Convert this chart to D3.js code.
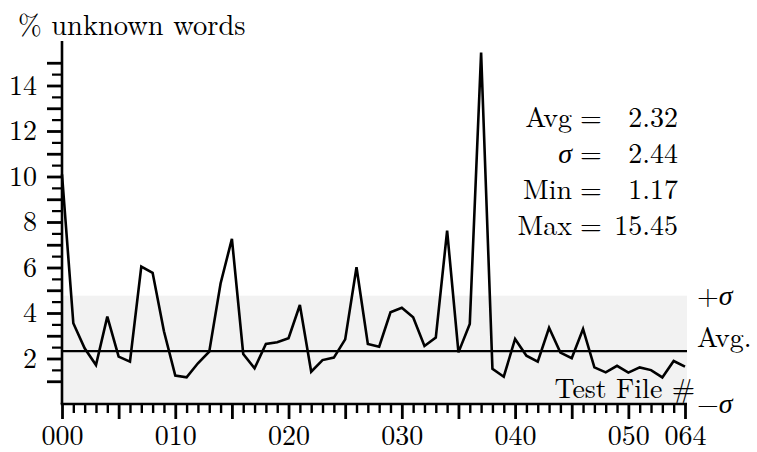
<!DOCTYPE html>
<html>
<head>
<meta charset="utf-8">
<script src="https://cdn.jsdelivr.net/npm/d3@7"></script>
<style>
  body { margin: 0; background: #fff; }
</style>
</head>
<body>
<script>
var width = 757;
var height = 452;
var font = "Latin Modern Roman";

// % unknown words per test file (index along the x axis)
var values = [10.1, 3.55, 2.45, 1.71, 3.84, 2.08, 1.86, 6.04, 5.77, 3.2,
  1.25, 1.17, 1.79, 2.30, 5.30, 7.26, 2.20, 1.57, 2.64, 2.71,
  2.89, 4.35, 1.42, 1.93, 2.04, 2.84, 6.01, 2.64, 2.52, 4.03,
  4.23, 3.81, 2.55, 2.92, 7.62, 2.27, 3.52, 15.45, 1.55, 1.20,
  2.86, 2.12, 1.86, 3.35, 2.26, 2.01, 3.30, 1.61, 1.39, 1.68,
  1.38, 1.61, 1.49, 1.17, 1.89, 1.64];

var xTickIdx = [0, 10, 20, 30, 40, 50, 55];
var xTickLabels = ["000", "010", "020", "030", "040", "050", "064"];
var yLabelTicks = [2, 4, 6, 8, 10, 12, 14];

var statNames = ["Avg", "\u03c3", "Min", "Max"];
var statValues = ["2.32", "2.44", "1.17", "15.45"];
var avg = 2.32, sd = 2.44;

var svg = d3.select("body").append("svg")
    .attr("width", width)
    .attr("height", height);

var x = d3.scaleLinear().domain([0, 55]).range([62, 685]);
var y = d3.scaleLinear().domain([0, 16]).range([404, 40]);

function label(px, py, size) {
  return svg.append("text")
      .attr("x", px).attr("y", py)
      .attr("font-family", font)
      .attr("font-size", size)
      .attr("fill", "#000");
}

// +/- sigma band, clipped at the x axis
svg.append("rect")
    .attr("x", x(0))
    .attr("y", y(avg + sd))
    .attr("width", 687 - x(0))
    .attr("height", y(Math.max(0, avg - sd)) - y(avg + sd))
    .attr("fill", "#f2f2f2");

// average line
svg.append("line")
    .attr("x1", x(0)).attr("x2", 687)
    .attr("y1", y(avg)).attr("y2", y(avg))
    .attr("stroke", "#000")
    .attr("stroke-width", 2.2);

// data line
var line = d3.line()
    .x(function(d, i) { return x(i); })
    .y(function(d) { return y(d); });

svg.append("path")
    .datum(values)
    .attr("d", line)
    .attr("fill", "none")
    .attr("stroke", "#000")
    .attr("stroke-width", 2.6)
    .attr("stroke-linejoin", "miter");

// y axis: half-unit minor ticks, integer major ticks, even labels
var yMinor = svg.append("g")
    .attr("transform", "translate(" + x(0) + ",0)")
    .call(d3.axisLeft(y).tickValues(d3.range(1.5, 15, 1)).tickSize(10).tickFormat(""));
yMinor.select(".domain").remove();
yMinor.selectAll("line").attr("stroke", "#000").attr("stroke-width", 2.2);

var yMajor = svg.append("g")
    .attr("transform", "translate(" + x(0) + ",0)")
    .call(d3.axisLeft(y).tickValues(d3.range(1, 16, 1)).tickSize(15).tickPadding(10)
      .tickFormat(function(d) { return yLabelTicks.indexOf(d) >= 0 ? d : ""; }));
yMajor.attr("font-family", font).attr("font-size", 28);
yMajor.select(".domain").remove();
yMajor.selectAll("line").attr("stroke", "#000").attr("stroke-width", 2.8);
yMajor.selectAll("text").attr("fill", "#000");

svg.append("line")
    .attr("x1", x(0)).attr("x2", x(0))
    .attr("y1", 41).attr("y2", y(0))
    .attr("stroke", "#000").attr("stroke-width", 2.6);

// x axis: minor ticks each file, longer every 5
var xMinor = svg.append("g")
    .attr("transform", "translate(0," + y(0) + ")")
    .call(d3.axisBottom(x).tickValues(d3.range(0, 56).filter(function(d) { return d % 5 != 0; }))
      .tickSize(9).tickFormat(""));
xMinor.select(".domain").remove();
xMinor.selectAll("line").attr("stroke", "#000").attr("stroke-width", 2.4);

var xMajor = svg.append("g")
    .attr("transform", "translate(0," + y(0) + ")")
    .call(d3.axisBottom(x).tickValues(d3.range(0, 56, 5)).tickSize(15).tickPadding(6)
      .tickFormat(function(d) {
        var k = xTickIdx.indexOf(d);
        return k >= 0 ? xTickLabels[k] : "";
      }));
xMajor.attr("font-family", font).attr("font-size", 28);
xMajor.select(".domain").remove();
xMajor.selectAll("line").attr("stroke", "#000").attr("stroke-width", 2.8);
xMajor.selectAll("text").attr("fill", "#000");

svg.append("line")
    .attr("x1", x(0) - 1.3).attr("x2", 687)
    .attr("y1", y(0)).attr("y2", y(0))
    .attr("stroke", "#000").attr("stroke-width", 2.6);

// titles
label(18, 35, 28.5).text("% unknown words");
label(695, 398, 28).attr("text-anchor", "end").text("Test File #");

// band labels
label(697, y(avg + sd) + 9, 28)
    .html("+<tspan font-style='italic'>\u03c3</tspan>");
label(697, 347, 28).text("Avg.");
label(697, y(0) + 9, 28)
    .html("\u2212<tspan font-style='italic'>\u03c3</tspan>");

// stats block: one text per row, columns aligned by tspans
statNames.forEach(function(name, i) {
  var row = label(572, 127 + i * 36, 28);
  row.append("tspan").attr("x", 572).attr("text-anchor", "end")
      .attr("font-style", i == 1 ? "italic" : "normal")
      .text(name);
  row.append("tspan").attr("x", 591).attr("text-anchor", "middle").text("=");
  row.append("tspan").attr("x", 678).attr("text-anchor", "end").text(statValues[i]);
});
</script>
</body>
</html>
